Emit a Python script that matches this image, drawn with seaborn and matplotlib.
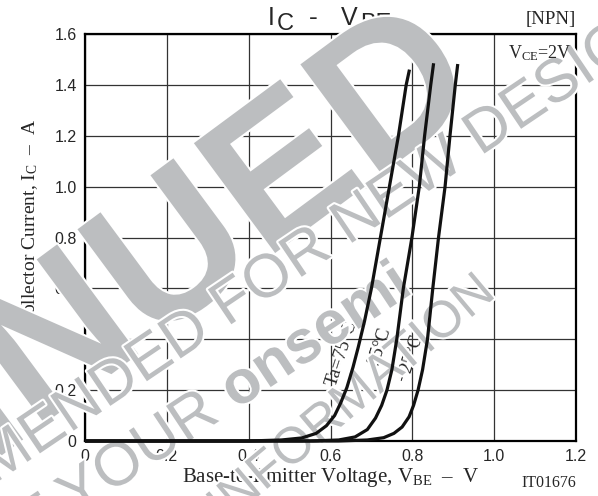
import numpy as np
import pandas as pd
import seaborn as sns
import matplotlib.pyplot as plt
import matplotlib.patheffects as pe

# Ic - Vbe curves (V, A)
v_75 = [0, 0.40, 0.48, 0.53, 0.565, 0.59, 0.61, 0.625, 0.64, 0.655, 0.668, 0.683, 0.70, 0.722, 0.744, 0.766, 0.785, 0.793]
i_75 = [0, 0, 0.004, 0.012, 0.03, 0.06, 0.10, 0.15, 0.21, 0.29, 0.37, 0.47, 0.60, 0.80, 1.00, 1.20, 1.40, 1.46]
v_25 = [0, 0.55, 0.62, 0.66, 0.69, 0.71, 0.725, 0.738, 0.75, 0.762, 0.778, 0.799, 0.817, 0.830, 0.845, 0.852]
i_25 = [0, 0, 0.004, 0.016, 0.045, 0.09, 0.14, 0.20, 0.28, 0.40, 0.60, 0.80, 1.00, 1.20, 1.40, 1.485]
v_m25 = [0, 0.62, 0.69, 0.73, 0.755, 0.775, 0.792, 0.803, 0.814, 0.825, 0.837, 0.850, 0.864, 0.880, 0.892, 0.905, 0.911]
i_m25 = [0, 0, 0.004, 0.013, 0.03, 0.055, 0.095, 0.14, 0.20, 0.28, 0.40, 0.60, 0.80, 1.00, 1.20, 1.40, 1.482]

x_ticks = [0, 0.2, 0.4, 0.6, 0.8, 1.0, 1.2]
x_labels = ["0", "0.2", "0.4", "0.6", "0.8", "1.0", "1.2"]
y_ticks = [0, 0.2, 0.4, 0.6, 0.8, 1.0, 1.2, 1.4, 1.6]
y_labels = ["0", "0.2", "0.4", "0.6", "0.8", "1.0", "1.2", "1.4", "1.6"]

curve_labels = ["Ta=75°C", "25°C", "\u221225°C"]
label_pos = [(0.628, 0.345), (0.720, 0.371), (0.796, 0.325)]

sns.set_style("white")
plt.rcParams["font.family"] = ["Liberation Serif", "DejaVu Serif"]
plt.rcParams["mathtext.fontset"] = "custom"
plt.rcParams["mathtext.rm"] = "Liberation Serif"
plt.rcParams["mathtext.it"] = "Liberation Serif:italic"

fig = plt.figure(figsize=(5.98, 4.96), dpi=100)
ax = fig.add_axes([85 / 598, 1 - 441 / 496, 491 / 598, 407 / 496])

df = pd.concat([
    pd.DataFrame({"V": v_75, "I": i_75, "Ta": "75"}),
    pd.DataFrame({"V": v_25, "I": i_25, "Ta": "25"}),
    pd.DataFrame({"V": v_m25, "I": i_m25, "Ta": "-25"}),
])
for t, g in df.groupby("Ta", sort=False):
    sns.lineplot(data=g, x="V", y="I", ax=ax, color="#111111", lw=2.3,
                 sort=False, estimator=None, zorder=3,
                 solid_capstyle="butt", clip_on=False)

ax.set_xlim(0, 1.2)
ax.set_ylim(0, 1.6)
ax.set_xticks(x_ticks, x_labels, family="Liberation Sans", fontsize=11.5)
ax.set_yticks(y_ticks, y_labels, family="Liberation Sans", fontsize=11.5)
ax.tick_params(length=0, pad=6)
ax.grid(True, color="#333333", lw=0.9)
ax.set_axisbelow(True)
for s in ax.spines.values():
    s.set_linewidth(1.6)
    s.set_color("black")
    s.set_zorder(0.8)

ax.set_xlabel("Base-to-Emitter Voltage, V$_{\\rm BE}$  \u2013  V", fontsize=15)
ax.xaxis.set_label_coords(0.5, -0.062)
ax.set_ylabel("Collector Current, I$_{\\rm C}$  \u2013  A", fontsize=14)
ax.yaxis.set_label_coords(-0.092, 0.535)

tf = fig.transFigure


def ftxt(x, y, s, **kw):
    # place a text by pixel position in the 598x496 figure
    kw.setdefault("zorder", 0.6)
    ax.text(x / 598, 1 - y / 496, s, transform=tf, **kw)


# title with full-size subscripts, as on the sheet
sans = dict(family="Liberation Sans", va="baseline", ha="left")
ftxt(268, 25, "I", fontsize=18, **sans)
ftxt(277, 30, "C", fontsize=17, **sans)
ftxt(309, 25, "-", fontsize=19, **sans)
ftxt(341, 25, "V", fontsize=18, **sans)
ftxt(360, 30, "BE", fontsize=17, **sans)

ftxt(576, 24, "[NPN]", fontsize=13.5, ha="right", va="baseline")
ftxt(572, 58, r"V$_{\rm CE}$=2V", fontsize=13, ha="right", va="baseline", zorder=1.1)
ftxt(576, 487, "IT01676", fontsize=11.5, ha="right", va="baseline")

for s, (x, y) in zip(curve_labels, label_pos):
    ax.text(x, y, s, fontsize=13.5, rotation=72, ha="center", va="center",
            rotation_mode="anchor", zorder=0.9)


# grey watermark stamped across the sheet
def wm(x, y, s, size, ha, rot, weight="normal"):
    ftxt(x, y, s, fontsize=size, color="#bcbec0", ha=ha, va="baseline",
         rotation=rot, rotation_mode="anchor", fontweight=weight,
         family="Liberation Sans", zorder=1, clip_on=False,
         path_effects=[pe.withStroke(linewidth=3, foreground="white")])


wm(486, 97, "DISCONTINUED", 143, "right", 36.5, "bold")
wm(334, 255, "NOT RECOMMENDED FOR", 44, "right", 34)
wm(334, 255, " NEW DESIGN", 44, "left", 34)
wm(236, 410, "CONTACT YOUR ", 44, "right", 33.5)
wm(236, 410, "onsemi", 44, "left", 33.5, "bold")
wm(497, 296, "FOR INFORMATION", 37, "right", 40)

fig.savefig("out.png", dpi=100)
